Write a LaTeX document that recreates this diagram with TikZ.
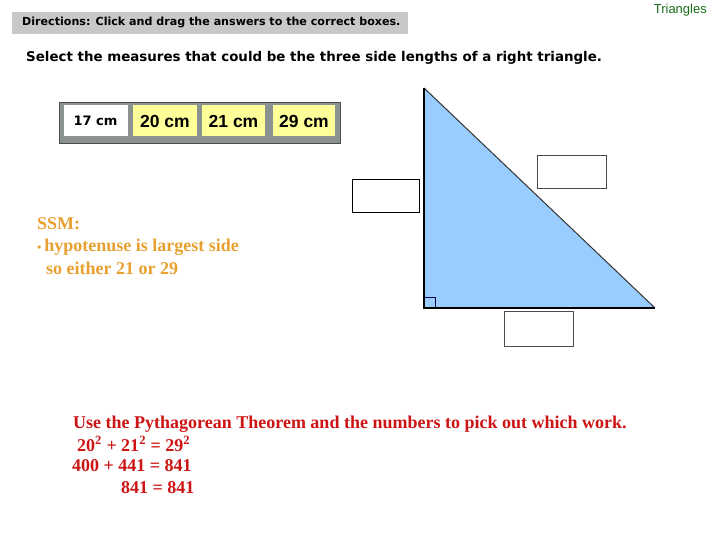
\documentclass[tikz,border=0pt]{standalone}
\usepackage{fontspec}
\setmainfont{Liberation Serif}
\newfontfamily\dejavu{DejaVu Sans}
\newfontfamily\arial{Liberation Sans}
\definecolor{barGray}{RGB}{200,200,200}
\definecolor{ansGray}{RGB}{140,146,146}
\definecolor{ansYellow}{RGB}{255,255,153}
\definecolor{triBlue}{RGB}{153,204,255}
\definecolor{ssmOrange}{RGB}{232,160,48}
\definecolor{workRed}{RGB}{204,20,20}
\definecolor{titleGreen}{RGB}{26,107,26}
\begin{document}
\begin{tikzpicture}[x=1pt,y=-1pt,
  ansbox/.style={draw=none,minimum width=63pt,minimum height=31pt,inner sep=0pt,
    font=\arial\fontsize{17.5}{19}\selectfont\bfseries},
  dropbox/.style={draw=black,line width=1pt,fill=white},
  ssm/.style={anchor=west,inner sep=0pt,text=ssmOrange,font=\fontsize{18}{20}\selectfont\bfseries},
  work/.style={anchor=west,inner sep=0pt,text=workRed,font=\fontsize{18}{20}\selectfont\bfseries}]
\useasboundingbox (0,0) rectangle (720,540);
% title
\node[anchor=east,inner sep=0pt,text=titleGreen,font=\arial\fontsize{13}{15}\selectfont] (title) at (707,10) {Triangles};
% directions bar
\fill[barGray] (12,12) rectangle (408,34);
\node[anchor=west,inner sep=0pt,font=\dejavu\fontsize{11.1}{13}\selectfont\bfseries] (dir) at (22,22) {Directions: Click and drag the answers to the correct boxes.};
\node[anchor=west,inner sep=0pt,font=\dejavu\fontsize{13.4}{15}\selectfont\bfseries] (sel) at (26,58) {Select the measures that could be the three side lengths of a right triangle.};
% answer bar
\draw[fill=ansGray,draw=black!70,line width=0.8pt] (59,102) rectangle (340,143);
\node[ansbox,fill=white,minimum width=64pt,font=\dejavu\fontsize{13}{15}\selectfont\bfseries] (a17) at (95.5,121) {17 cm};
\node[ansbox,fill=ansYellow,minimum width=64pt] (a20) at (165,121) {20 cm};
\node[ansbox,fill=ansYellow] (a21) at (233.5,121) {21 cm};
\node[ansbox,fill=ansYellow,minimum width=62pt] (a29) at (304,121) {29 cm};
% triangle
\coordinate (A) at (424,88);
\coordinate (B) at (424,308);
\coordinate (C) at (655,308);
\fill[triBlue] (A) -- (B) -- (C) -- cycle;
\draw[black!80,line width=1pt] (A) -- (C);
\draw[black,line width=1.3pt] (A) -- (B) -- (C);
\draw[black!70!blue,line width=0.8pt] (424,297) -- (435,297) -- (435,308);
% drop boxes
\draw[dropbox] (352,180) rectangle (419,213);
\draw[dropbox,draw=black!70] (537,156) rectangle (606,189);
\draw[dropbox,draw=black!70] (504,311) rectangle (573,346);
% SSM notes
\node[ssm] (s1) at (37,224) {SSM:};
\node[ssm] (s2) at (37,247) {{\fontsize{12}{12}\selectfont\textbullet}\,hypotenuse is largest side};
\node[ssm] (s3) at (46,268) {so either 21 or 29};
% work
\node[work] (w1) at (73,424) {Use the Pythagorean Theorem and the numbers to pick out which work.};
\node[work] (w2) at (77,444) {20\textsuperscript{2} + 21\textsuperscript{2} = 29\textsuperscript{2}};
\node[work] (w3) at (72,466) {400 + 441 = 841};
\node[work] (w4) at (121,488) {841 = 841};
\end{tikzpicture}
\end{document}
